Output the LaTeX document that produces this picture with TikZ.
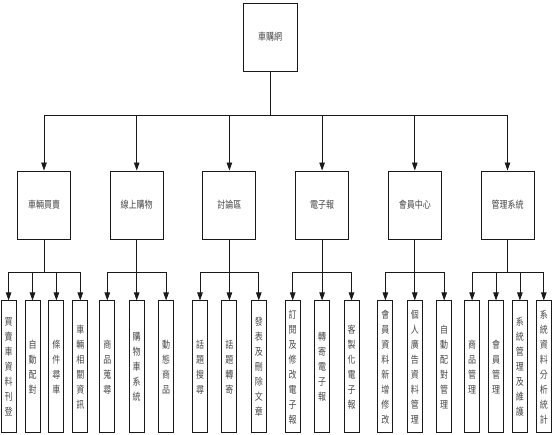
\documentclass[tikz,border=0pt]{standalone}
\usepackage{fontspec}
\usepackage{tikz}
\usetikzlibrary{arrows.meta, positioning}
\newfontfamily\cjk[FakeStretch=0.8]{Noto Sans CJK TC}
\definecolor{linegray}{RGB}{25,25,25}
\definecolor{textgray}{RGB}{70,70,70}

\begin{document}
\begin{tikzpicture}[
      x=1pt, y=-1pt,
      node distance=61pt and 38.8pt,
      box/.style={draw=linegray, line width=0.9pt, minimum width=53pt, minimum height=68pt,
                  inner sep=0pt, text=textgray, font=\cjk\fontsize{10}{12}\selectfont},
      leaf/.style={draw=linegray, line width=0.9pt, minimum width=15pt, minimum height=132pt,
                   inner sep=0pt, align=center, text=textgray, font=\cjk\fontsize{10}{15}\selectfont},
      arr/.style={-{Triangle[length=8pt,width=5.5pt]}, line width=0.8pt, linegray}
    ]
    \useasboundingbox (0,0) rectangle (552,435);

    \node[box, minimum width=54pt] (root) at (270,37) {車購網};

    %% Level 1
    \node[box] (c1) at (44,205) {車輛買賣};
    \node[box, right=of c1] (c2) {線上購物};
    \node[box, right=of c2] (c3) {討論區};
    \node[box, right=of c3] (c4) {電子報};
    \node[box, right=of c4] (c5) {會員中心};
    \node[box, right=of c5] (c6) {管理系統};

    \draw[arr] (root.south) -- ++(0,-44pt) -| (c1.north);
    \draw[arr] (root.south) -- ++(0,-44pt) -| (c2.north);
    \draw[arr] (root.south) -- ++(0,-44pt) -| (c3.north);
    \draw[arr] (root.south) -- ++(0,-44pt) -| (c4.north);
    \draw[arr] (root.south) -- ++(0,-44pt) -| (c5.north);
    \draw[arr] (root.south) -- ++(0,-44pt) -| (c6.north);

    %% Level 2
    \node[leaf, below=61pt of c1, xshift=-11.5pt] (a2) {自\\動\\配\\對};
    \node[leaf, left=8pt of a2]  (a1) {買\\賣\\車\\資\\料\\刊\\登};
    \node[leaf, right=8pt of a2] (a3) {條\\件\\尋\\車};
    \node[leaf, right=8pt of a3] (a4) {車\\輛\\相\\關\\資\\訊};

    \node[leaf, below=of c2] (b2) {購\\物\\車\\系\\統};
    \node[leaf, left=13.5pt of b2]  (b1) {商\\品\\蒐\\尋};
    \node[leaf, right=13.5pt of b2] (b3) {動\\態\\商\\品};

    \node[leaf, below=of c3] (d2) {話\\題\\轉\\寄};
    \node[leaf, left=13.5pt of d2]  (d1) {話\\題\\搜\\尋};
    \node[leaf, right=13.5pt of d2] (d3) {發\\表\\及\\刪\\除\\文\\章};

    \node[leaf, below=of c4] (e2) {轉\\寄\\電\\子\\報};
    \node[leaf, left=13.5pt of e2]  (e1) {訂\\閱\\及\\修\\改\\電\\子\\報};
    \node[leaf, right=13.5pt of e2] (e3) {客\\製\\化\\電\\子\\報};

    \node[leaf, below=of c5] (m2) {個\\人\\廣\\告\\資\\料\\管\\理};
    \node[leaf, left=13.5pt of m2]  (m1) {會\\員\\資\\料\\新\\增\\修\\改};
    \node[leaf, right=13.5pt of m2] (m3) {自\\動\\配\\對\\管\\理};

    \node[leaf, below=61pt of c6, xshift=-11.5pt] (s2) {會\\員\\管\\理};
    \node[leaf, left=8pt of s2]  (s1) {商\\品\\管\\理};
    \node[leaf, right=8pt of s2] (s3) {系\\統\\管\\理\\及\\維\\護};
    \node[leaf, right=8pt of s3] (s4) {系\\統\\資\\料\\分\\析\\統\\計};

    \draw[arr] (c1.south) -- ++(0,-33pt) -| (a1.north);
    \draw[arr] (c1.south) -- ++(0,-33pt) -| (a2.north);
    \draw[arr] (c1.south) -- ++(0,-33pt) -| (a3.north);
    \draw[arr] (c1.south) -- ++(0,-33pt) -| (a4.north);

    \draw[arr] (c2.south) -- ++(0,-33pt) -| (b1.north);
    \draw[arr] (c2.south) -- (b2.north);
    \draw[arr] (c2.south) -- ++(0,-33pt) -| (b3.north);

    \draw[arr] (c3.south) -- ++(0,-33pt) -| (d1.north);
    \draw[arr] (c3.south) -- (d2.north);
    \draw[arr] (c3.south) -- ++(0,-33pt) -| (d3.north);

    \draw[arr] (c4.south) -- ++(0,-33pt) -| (e1.north);
    \draw[arr] (c4.south) -- (e2.north);
    \draw[arr] (c4.south) -- ++(0,-33pt) -| (e3.north);

    \draw[arr] (c5.south) -- ++(0,-33pt) -| (m1.north);
    \draw[arr] (c5.south) -- (m2.north);
    \draw[arr] (c5.south) -- ++(0,-33pt) -| (m3.north);

    \draw[arr] (c6.south) -- ++(0,-33pt) -| (s1.north);
    \draw[arr] (c6.south) -- ++(0,-33pt) -| (s2.north);
    \draw[arr] (c6.south) -- ++(0,-33pt) -| (s3.north);
    \draw[arr] (c6.south) -- ++(0,-33pt) -| (s4.north);
  \end{tikzpicture}
\end{document}
